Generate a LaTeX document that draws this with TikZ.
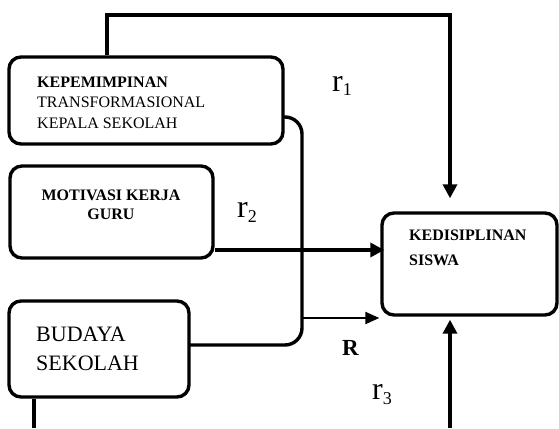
\documentclass[tikz,border=0pt]{standalone}
\usepackage{fontspec}
\setmainfont{Liberation Serif}
\usetikzlibrary{arrows.meta}
\newcommand{\rsub}[1]{r\raisebox{-5pt}{\fontsize{18}{18}\selectfont #1}}
\begin{document}
\begin{tikzpicture}[x=1pt,y=-1pt,
  box/.style={draw,line width=3.4pt,rounded corners=12pt,inner sep=0pt},
  conn/.style={line width=3.4pt},
  arr/.style={line width=3.4pt,-{Triangle[length=14pt,width=14pt]}},
  lbl/.style={inner sep=0pt,anchor=base west,align=left},
  rl/.style={font=\fontsize{32}{32}\selectfont,anchor=base west,inner sep=0pt}]
\useasboundingbox (0,0) rectangle (559,428);
% boxes
\node[box,minimum width=274pt,minimum height=87pt] (kep) at (146,100.5) {};
\node[box,minimum width=203pt,minimum height=92pt] (mot) at (111.5,212) {};
\node[box,minimum width=180pt,minimum height=96pt] (bud) at (99,349) {};
\node[box,minimum width=175pt,minimum height=102pt] (ked) at (469.5,264) {};
% texts
\node[lbl,font=\fontsize{16}{20.5}\selectfont] (tkep) at (37,128) {\textbf{KEPEMIMPINAN}\\TRANSFORMASIONAL\\KEPALA SEKOLAH};
\node[inner sep=0pt,anchor=base,align=center,font=\fontsize{16}{19}\selectfont\bfseries] (tmot) at (111,219) {MOTIVASI KERJA\\GURU};
\node[lbl,font=\fontsize{22}{29}\selectfont] (tbud) at (36,370) {BUDAYA\\SEKOLAH};
\node[lbl,font=\fontsize{16}{25}\selectfont\bfseries] (tked) at (409,265) {KEDISIPLINAN\\SISWA};
% connector coordinates
\coordinate (top1) at (107,15);
\coordinate (top2) at (450,15);
\coordinate (kr) at (283,117);
\coordinate (br) at (302,318);
\coordinate (bl) at (189,345);
\coordinate (bend) at (302,345);
\coordinate (bot1) at (34,428);
\coordinate (bot2) at (450,428);
% top connector r1
\draw[arr] (kep.north -| top1) -- (top1) -- (top2) -- ([yshift=13pt]ked.north -| top2);
% r2
\draw[arr] (mot.east |- 0,250) -- ([xshift=4pt]ked.west |- 0,250);
% bracket
\draw[conn,rounded corners=17pt] (kr) -| (bend) -- (bl);
% R arrow
\draw[line width=2.2pt,-{Triangle[length=14pt,width=12pt]}] (br) -- ([xshift=-1pt]ked.west |- br);
% bottom connectors
\draw[conn] (bud.south -| bot1) -- (bot1);
\draw[arr] (bot2) -- ([yshift=-3pt]ked.south -| bot2);
% labels
\node[rl] (r1) at (332,91) {\rsub{1}};
\node[rl] (r2) at (237,217) {\rsub{2}};
\node[rl] (r3) at (372,399) {\rsub{3}};
\node[font=\fontsize{23}{23}\selectfont\bfseries,anchor=base west,inner sep=0pt] (R) at (342,355) {R};
\end{tikzpicture}
\end{document}
